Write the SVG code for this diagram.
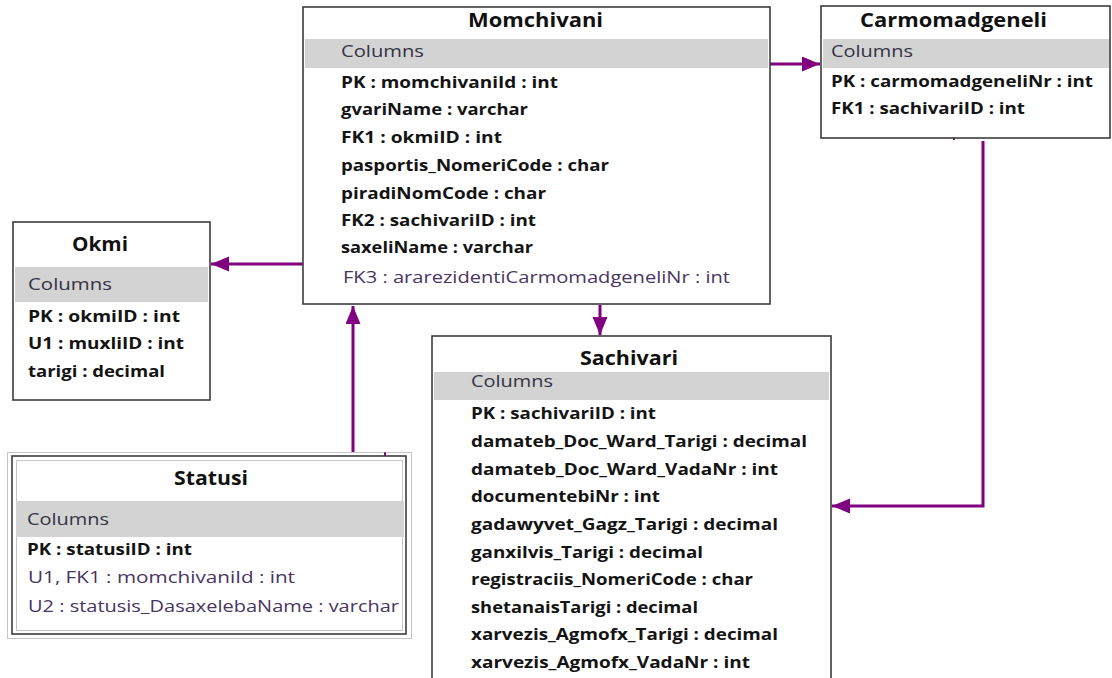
<svg xmlns="http://www.w3.org/2000/svg" width="1112" height="678" viewBox="0 0 1112 678">
  <style>
    .box { fill: #ffffff; stroke: #3c3c3c; stroke-width: 1.6; }
    .band { fill: #d3d3d3; }
    .title { font-family: "Open Sans", "Liberation Sans", sans-serif; font-weight: bold; font-size: 20px; fill: #111111; text-anchor: middle; }
    .hdr { font-family: "Open Sans", "Liberation Sans", sans-serif; font-size: 16.5px; fill: #333344; }
    .col { font-family: "Open Sans", "Liberation Sans", sans-serif; font-weight: bold; font-size: 16.5px; fill: #141414; }
    .col2 { font-family: "Open Sans", "Liberation Sans", sans-serif; font-size: 16.5px; fill: #4a3461; }
    .dot { fill: none; stroke: #8a8a8a; stroke-width: 1; stroke-dasharray: 1 1; }
    .link { fill: none; stroke: #800080; stroke-width: 3; }
  </style>
  <defs>
    <marker id="arrow" markerUnits="userSpaceOnUse" markerWidth="20" markerHeight="16" refX="18" refY="7.5" orient="auto" viewBox="0 0 20 16">
      <path d="M0,0 L18,7.5 L0,15 z" fill="#800080"/>
    </marker>
  </defs>

  <rect width="1112" height="678" fill="#ffffff"/>

  <!-- relationship lines -->
  <g id="connectors">
    <path class="link" d="M770,64 H820" marker-end="url(#arrow)"/>
    <path class="link" d="M303,264 H211" marker-end="url(#arrow)"/>
    <path class="link" d="M600,305 V335" marker-end="url(#arrow)"/>
    <path class="link" d="M353,452 V306" marker-end="url(#arrow)"/>
    <path class="link" d="M983,141 V506 H832" marker-end="url(#arrow)"/>
    <path d="M954,137 V140" stroke="#800080" stroke-width="2"/>
    <path d="M385,452 V457" stroke="#800080" stroke-width="2"/>
  </g>

  <g id="momchivani">
    <rect class="box" x="303" y="7" width="467" height="297"/>
    <rect class="band" x="305" y="39" width="463" height="29"/>
    <text class="title" x="535.5" y="27" textLength="135" lengthAdjust="spacingAndGlyphs">Momchivani</text>
    <text class="hdr" x="341" y="57" textLength="83" lengthAdjust="spacingAndGlyphs">Columns</text>
    <text class="col" x="341" y="88" textLength="217" lengthAdjust="spacingAndGlyphs">PK : momchivaniId : int</text>
    <text class="col" x="341" y="115" textLength="187" lengthAdjust="spacingAndGlyphs">gvariName : varchar</text>
    <text class="col" x="341" y="143" textLength="161" lengthAdjust="spacingAndGlyphs">FK1 : okmiID : int</text>
    <text class="col" x="341" y="171" textLength="268" lengthAdjust="spacingAndGlyphs">pasportis_NomeriCode : char</text>
    <text class="col" x="341" y="199" textLength="205" lengthAdjust="spacingAndGlyphs">piradiNomCode : char</text>
    <text class="col" x="341" y="226" textLength="195" lengthAdjust="spacingAndGlyphs">FK2 : sachivariID : int</text>
    <text class="col" x="341" y="253" textLength="192" lengthAdjust="spacingAndGlyphs">saxeliName : varchar</text>
    <text class="col2" x="343" y="283" textLength="387" lengthAdjust="spacingAndGlyphs" fill="#3a3a58">FK3 : ararezidentiCarmomadgeneliNr : int</text>
  </g>

  <g id="carmomadgeneli">
    <rect class="box" x="821" y="6" width="289" height="132"/>
    <rect class="band" x="823" y="39" width="286" height="29"/>
    <text class="title" x="953.5" y="27" textLength="187" lengthAdjust="spacingAndGlyphs">Carmomadgeneli</text>
    <text class="hdr" x="831" y="57" textLength="82" lengthAdjust="spacingAndGlyphs">Columns</text>
    <text class="col" x="831" y="87" textLength="262" lengthAdjust="spacingAndGlyphs">PK : carmomadgeneliNr : int</text>
    <text class="col" x="831" y="114" textLength="194" lengthAdjust="spacingAndGlyphs">FK1 : sachivariID : int</text>
  </g>

  <g id="okmi">
    <rect class="box" x="13" y="222" width="197" height="178"/>
    <rect class="band" x="15" y="267" width="193" height="35"/>
    <text class="title" x="100" y="251" textLength="56" lengthAdjust="spacingAndGlyphs">Okmi</text>
    <text class="hdr" x="28" y="290" textLength="84" lengthAdjust="spacingAndGlyphs">Columns</text>
    <text class="col" x="28" y="322" textLength="152" lengthAdjust="spacingAndGlyphs">PK : okmiID : int</text>
    <text class="col" x="28" y="349" textLength="156" lengthAdjust="spacingAndGlyphs">U1 : muxliID : int</text>
    <text class="col" x="28" y="377" textLength="137" lengthAdjust="spacingAndGlyphs">tarigi : decimal</text>
  </g>

  <g id="sachivari">
    <rect class="box" x="432" y="336" width="399" height="360"/>
    <rect class="band" x="434" y="372" width="395" height="28"/>
    <text class="title" x="629" y="365" textLength="98" lengthAdjust="spacingAndGlyphs">Sachivari</text>
    <text class="hdr" x="471" y="387" textLength="82" lengthAdjust="spacingAndGlyphs">Columns</text>
    <text class="col" x="471" y="419" textLength="185" lengthAdjust="spacingAndGlyphs">PK : sachivariID : int</text>
    <text class="col" x="471" y="447" textLength="336" lengthAdjust="spacingAndGlyphs">damateb_Doc_Ward_Tarigi : decimal</text>
    <text class="col" x="471" y="475" textLength="307" lengthAdjust="spacingAndGlyphs">damateb_Doc_Ward_VadaNr : int</text>
    <text class="col" x="471" y="502" textLength="189" lengthAdjust="spacingAndGlyphs">documentebiNr : int</text>
    <text class="col" x="471" y="530" textLength="307" lengthAdjust="spacingAndGlyphs">gadawyvet_Gagz_Tarigi : decimal</text>
    <text class="col" x="471" y="558" textLength="232" lengthAdjust="spacingAndGlyphs">ganxilvis_Tarigi : decimal</text>
    <text class="col" x="471" y="585" textLength="282" lengthAdjust="spacingAndGlyphs">registraciis_NomeriCode : char</text>
    <text class="col" x="471" y="613" textLength="227" lengthAdjust="spacingAndGlyphs">shetanaisTarigi : decimal</text>
    <text class="col" x="471" y="640" textLength="307" lengthAdjust="spacingAndGlyphs">xarvezis_Agmofx_Tarigi : decimal</text>
    <text class="col" x="471" y="668" textLength="279" lengthAdjust="spacingAndGlyphs">xarvezis_Agmofx_VadaNr : int</text>
  </g>

  <g id="statusi">
    <rect class="dot" x="7.5" y="452.5" width="404" height="186"/>
    <rect class="box" x="12" y="456" width="394" height="178" stroke-width="2.2" stroke="#4a4a4a"/>
    <rect class="dot" x="16.5" y="460.5" width="386" height="170"/>
    <rect class="band" x="16" y="501" width="388" height="36"/>
    <text class="title" x="211" y="485" textLength="74" lengthAdjust="spacingAndGlyphs">Statusi</text>
    <text class="hdr" x="27" y="525" textLength="82" lengthAdjust="spacingAndGlyphs">Columns</text>
    <text class="col" x="27" y="555" textLength="165" lengthAdjust="spacingAndGlyphs">PK : statusiID : int</text>
    <text class="col2" x="28" y="583" textLength="267" lengthAdjust="spacingAndGlyphs">U1, FK1 : momchivaniId : int</text>
    <text class="col2" x="28" y="612" textLength="371" lengthAdjust="spacingAndGlyphs">U2 : statusis_DasaxelebaName : varchar</text>
  </g>
</svg>
